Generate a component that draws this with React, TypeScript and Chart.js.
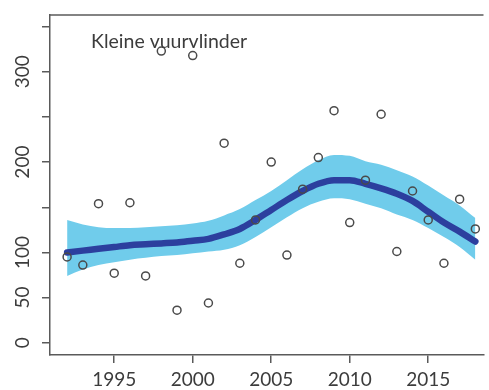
import React, { useEffect, useRef } from "react";
import { Chart, registerables } from "chart.js";

Chart.register(...registerables);

// Observed yearly counts (open circles)
const years = [1992, 1993, 1994, 1995, 1996, 1997, 1998, 1999, 2000, 2001, 2002, 2003, 2004, 2005, 2006, 2007, 2008, 2009, 2010, 2011, 2012, 2013, 2014, 2015, 2016, 2017, 2018];
const counts = [95, 86, 154, 77, 155, 74, 323, 36, 318, 44, 221, 88, 136, 200, 97, 170, 205, 257, 133, 180, 253, 101, 168, 136, 88, 159, 126];

// Smoothed trend with confidence band
const trend = [100, 102, 104, 106, 108, 109, 110, 111, 113, 115, 120, 126, 136, 147, 158, 168, 176, 180, 180, 176, 171, 165, 157, 145, 133, 123, 112];
const bandLower = [74, 81, 86, 89, 92, 94, 96, 97, 99, 101, 103, 108, 117, 128, 139, 149, 156, 160, 159, 154, 149, 142, 136, 127, 117, 106, 92];
const bandUpper = [136, 131, 128, 127, 127, 128, 129, 130, 132, 135, 141, 148, 158, 168, 180, 192, 202, 208, 207, 201, 197, 191, 184, 174, 163, 152, 138];

const xTicks = [1995, 2000, 2005, 2010, 2015];
const yTicks = [0, 50, 100, 150, 200, 250, 300, 350];
const yLabels = [0, 50, 100, 200, 300];
const title = "Kleine vuurvlinder";

const FONT = "Lato, 'Open Sans', sans-serif";
const AXIS = "#5a5a5a";
const TEXT = "#3c3c3c";

export default function App() {
  const ref = useRef<HTMLCanvasElement>(null);

  useEffect(() => {
    const canvas = ref.current;
    if (!canvas) return;

    const overlay = {
      id: "overlay",
      afterDraw(chart: any) {
        const ctx = chart.ctx;
        const area = chart.chartArea;
        const ys = chart.scales.y;
        ctx.save();
        // top border of the box
        ctx.strokeStyle = AXIS;
        ctx.lineWidth = 1.5;
        ctx.beginPath();
        ctx.moveTo(area.left, area.top);
        ctx.lineTo(area.right, area.top);
        ctx.stroke();
        // rotated y labels
        ctx.fillStyle = TEXT;
        ctx.font = `19px ${FONT}`;
        ctx.textAlign = "center";
        ctx.textBaseline = "middle";
        yLabels.forEach((v) => {
          const py = ys.getPixelForValue(v);
          ctx.save();
          ctx.translate(23, py);
          ctx.rotate(-Math.PI / 2);
          ctx.fillText(String(v), 0, 0);
          ctx.restore();
        });
        // title inside the plot
        ctx.font = `19.5px ${FONT}`;
        ctx.textAlign = "left";
        ctx.textBaseline = "alphabetic";
        ctx.fillText(title, 91, 48);
        ctx.restore();
      },
    };

    const chart = new Chart(canvas, {
      type: "line",
      data: {
        datasets: [
          {
            label: "counts",
            data: years.map((x, i) => ({ x, y: counts[i] })),
            showLine: false,
            pointStyle: "circle",
            pointRadius: 4,
            pointBorderWidth: 1.5,
            pointBorderColor: "#4a4a4a",
            pointBackgroundColor: "rgba(0,0,0,0)",
            borderColor: "#4a4a4a",
            fill: false,
          },
          {
            label: "trend",
            data: years.map((x, i) => ({ x, y: trend[i] })),
            borderColor: "#2c3f9e",
            borderWidth: 6.5,
            pointRadius: 0,
            cubicInterpolationMode: "monotone",
            fill: false,
            borderCapStyle: "round",
          },
          {
            label: "upper",
            data: years.map((x, i) => ({ x, y: bandUpper[i] })),
            borderColor: "rgba(0,0,0,0)",
            borderWidth: 0,
            pointRadius: 0,
            cubicInterpolationMode: "monotone",
            backgroundColor: "#70cceb",
            fill: "+1",
          },
          {
            label: "lower",
            data: years.map((x, i) => ({ x, y: bandLower[i] })),
            borderColor: "rgba(0,0,0,0)",
            borderWidth: 0,
            pointRadius: 0,
            cubicInterpolationMode: "monotone",
            fill: false,
          },
        ],
      },
      options: {
        animation: false,
        responsive: false,
        devicePixelRatio: 1,
        layout: { padding: { top: 15, left: 0, right: 0, bottom: 0 } },
        plugins: {
          legend: { display: false },
          tooltip: { enabled: false },
          title: { display: false },
        },
        scales: {
          x: {
            type: "linear",
            min: 1990.91,
            max: 2018.52,
            afterBuildTicks: (s: any) => {
              s.ticks = xTicks.map((v) => ({ value: v }));
            },
            afterFit: (s: any) => {
              s.height = 35;
            },
            grid: {
              display: true,
              drawOnChartArea: false,
              drawTicks: true,
              tickLength: 8,
              color: AXIS,
              lineWidth: 1.5,
            },
            border: { display: true, color: AXIS, width: 1.5 },
            ticks: {
              color: TEXT,
              font: { family: FONT, size: 19 },
              padding: 5,
              maxRotation: 0,
              minRotation: 0,
              callback: (v: any) => String(v),
            },
          },
          y: {
            type: "linear",
            min: -13.6,
            max: 362.9,
            afterBuildTicks: (s: any) => {
              s.ticks = yTicks.map((v) => ({ value: v }));
            },
            afterFit: (s: any) => {
              s.width = 50;
            },
            grid: {
              display: true,
              drawOnChartArea: false,
              drawTicks: true,
              tickLength: 8,
              color: AXIS,
              lineWidth: 1.5,
            },
            border: { display: true, color: AXIS, width: 1.5 },
            ticks: { display: false },
          },
        },
      },
      plugins: [overlay],
    });

    return () => chart.destroy();
  }, []);

  return (
    <div style={{ position: "fixed", left: 0, top: 0, width: 489, height: 390, background: "#fff" }}>
      <canvas ref={ref} width={489} height={390} style={{ display: "block" }} />
    </div>
  );
}
